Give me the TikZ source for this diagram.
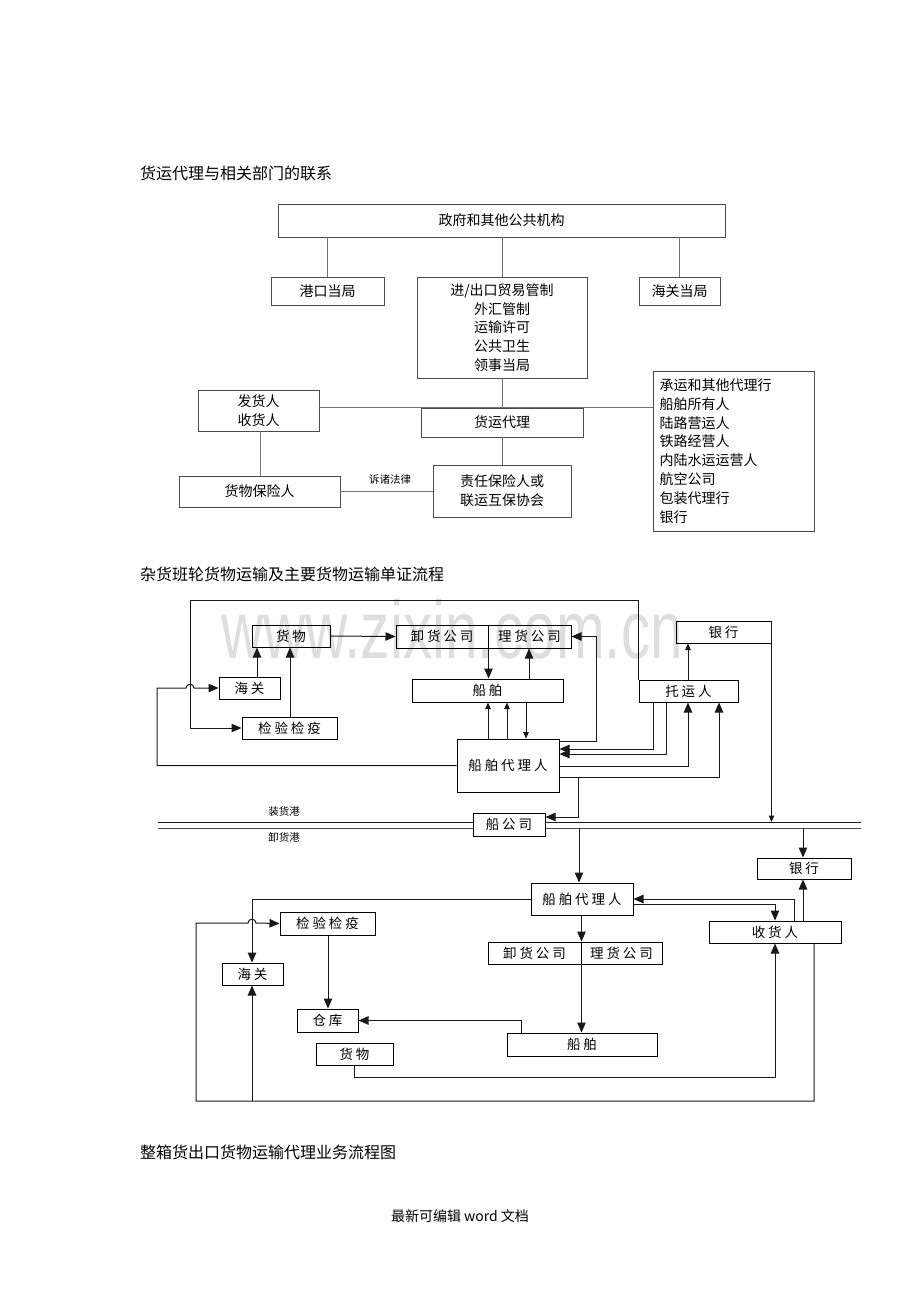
\documentclass[tikz,border=0pt]{standalone}
\usepackage{fontspec}
\newfontfamily\cjk{Noto Sans CJK SC}
\newfontfamily\cjksp{Noto Sans CJK SC}[LetterSpace=22]
\newfontfamily\wmfont{Liberation Sans}
\usetikzlibrary{arrows.meta,calc}
\newcommand\mkbox[7][]{%
  \pgfmathsetmacro\bxw{#5-#3}\pgfmathsetmacro\bxh{#6-#4}%
  \node[#1,minimum width=\bxw pt,minimum height=\bxh pt] (#2) at ({(#3+#5)/2},{(#4+#6)/2}) {#7};}
\tikzset{
  boxA/.style={draw=black!70, line width=0.8pt, inner sep=0pt, align=center,
    font=\cjk\fontsize{14}{18.8}\selectfont},
  boxB/.style={draw=black, line width=1pt, inner sep=0pt,
    font=\cjksp\fontsize{13.5}{16}\selectfont},
  linA/.style={draw=black!55, line width=0.8pt},
  linB/.style={draw=black!90, line width=1pt},
  arr/.style={linB, -{Triangle[length=10pt,width=8.5pt]}},
  arrs/.style={linB, -{Triangle[length=6.5pt,width=5.5pt]}},
  ttl/.style={anchor=west, inner sep=0pt, font=\cjk\fontsize{16}{16}\selectfont},
  smlab/.style={inner sep=0pt, font=\cjk\fontsize{10.5}{11}\selectfont}
}
\begin{document}
\begin{tikzpicture}[x=1pt,y=-1pt]
\fill[white] (0,0) rectangle (920,1302);
\path[use as bounding box] (0,0) rectangle (920,1302);

% watermark
\node[inner sep=0pt, anchor=base, text=black!13, xscale=0.714,
  font=\wmfont\fontsize{82}{82}\selectfont] (wm) at (452,658) {www.zixin.com.cn};

% ---------------- titles ----------------
\node[ttl] (t1) at (140,173) {货运代理与相关部门的联系};
\node[ttl] (t2) at (140,574) {杂货班轮货物运输及主要货物运输单证流程};
\node[ttl] (t3) at (140,1152) {整箱货出口货物运输代理业务流程图};
\node[inner sep=0pt, font=\cjk\fontsize{14}{14}\selectfont] (foot) at (460,1216) {最新可编辑 word 文档};

% ---------------- diagram 1 ----------------
\mkbox[boxA]{gov}{278}{204}{725}{237}{政府和其他公共机构}
\mkbox[boxA]{gangkou}{271}{277}{384}{305}{港口当局}
\mkbox[boxA]{jck}{417}{277}{587}{378}{进/出口贸易管制\\外汇管制\\运输许可\\公共卫生\\领事当局}
\mkbox[boxA]{hgdj}{639}{277}{720}{305}{海关当局}
\mkbox[boxA]{fahuo}{198}{390}{319}{431}{发货人\\收货人}
\mkbox[boxA]{hydl}{421}{408}{583}{437}{货运代理}
\mkbox[boxA,align=left,text width=148pt,inner xsep=6pt]{chengyun}{653}{371}{814}{531}{承运和其他代理行\\船舶所有人\\陆路营运人\\铁路经营人\\内陆水运运营人\\航空公司\\包装代理行\\银行}
\mkbox[boxA]{hwbx}{179}{476}{340}{507}{货物保险人}
\mkbox[boxA]{zeren}{433}{465}{571}{517}{责任保险人或\\联运互保协会}
\node[smlab] (susong) at (390,479) {诉诸法律};

\draw[linA] (gov.south -| gangkou.north) -- (gangkou.north);
\draw[linA] (gov.south -| jck.north) -- (jck.north);
\draw[linA] (gov.south -| hgdj.north) -- (hgdj.north);
\draw[linA] (jck.south) -- (hydl.north);
\draw[linA] (fahuo.east |- hydl.north) -- (chengyun.west |- hydl.north);
\draw[linA] (fahuo.south -| 260,0) -- (hwbx.north -| 260,0);
\draw[linA] (hydl.south) -- (zeren.north);
\draw[linA] (hwbx.east) -- (zeren.west |- hwbx.east);

% ---------------- diagram 2 : loading port ----------------
\draw[linB] (158,822) -- (861,822);
\draw[linB,draw=black!70] (158,828) -- (861,828);
\node[smlab] (zhg) at (284,811) {装货港};
\node[smlab] (xhg) at (284,837) {卸货港};

\mkbox[boxB]{huowu1}{252}{625}{330}{647}{货物}
\mkbox[boxB]{xiehuo1}{396}{625}{488}{648}{卸货公司}
\mkbox[boxB]{lihuo1}{488}{625}{571}{648}{理货公司}
\mkbox[boxB]{haiguan1}{219}{677}{280}{699}{海关}
\mkbox[boxB]{jianyan1}{242}{717}{337}{739}{检验检疫}
\mkbox[boxB]{chuanbo1}{412}{679}{563}{702}{船舶}
\mkbox[boxB]{daili1}{457}{739}{559}{792}{船舶代理人}
\mkbox[boxB]{tuoyun}{639}{680}{738}{702}{托运人}
\mkbox[boxB]{yinhang1}{676}{621}{771}{643}{银行}
\mkbox[boxB,fill=white]{cgs}{473}{813}{545}{836}{船公司}

\coordinate (o1) at (190,600);
\draw[arr] (huowu1.east) -- (xiehuo1.west);
\draw[arr] (haiguan1.north -| 257,0) -- (huowu1.south -| 257,0);
\draw[arr] (jianyan1.north -| 290,0) -- (huowu1.south -| 290,0);
\draw[arr] (tuoyun.north west) -- (tuoyun.north west |- o1) -- (o1) |- (jianyan1.west);
\draw[arr] (daili1.west) -| (157,688) -- (186,688) .. controls (186,683) and (194,683) .. (194,688) -- (haiguan1.west);
\draw[arr] (xiehuo1.south east) -- (chuanbo1.north -| xiehuo1.south east);
\draw[arr] (chuanbo1.north -| 529,0) -- (lihuo1.south -| 529,0);
\draw[arr] (daili1.east |- 0,741) -- (596,741) |- (lihuo1.east);
\draw[arrs] (daili1.north -| 488,0) -- (chuanbo1.south -| 488,0);
\draw[arrs] (daili1.north -| 507,0) -- (chuanbo1.south -| 507,0);
\draw[arrs] (chuanbo1.south -| 526,0) -- (daili1.north -| 526,0);
\draw[arr] (tuoyun.south -| 653,0) |- (daili1.east |- 0,749);
\draw[arr] (tuoyun.south -| 666,0) |- (daili1.east |- 0,754);
\draw[arr] (daili1.east |- 0,766) -| (tuoyun.south -| 688,0);
\draw[arr] (daili1.east |- 0,777) -| (tuoyun.south -| 719,0);
\draw[arr] (daili1.east |- 0,777) -- (578,777) |- (cgs.east |- 0,817);
\draw[arrs] (tuoyun.north -| 688,0) -- (yinhang1.south -| 688,0);
\draw[arrs] (yinhang1.north east) -- (yinhang1.north east |- 0,822);

% ---------------- diagram 2 : discharging port ----------------
\mkbox[boxB]{daili2}{531}{883}{633}{915}{船舶代理人}
\mkbox[boxB]{jianyan2}{280}{912}{375}{935}{检验检疫}
\mkbox[boxB]{haiguan2}{222}{963}{283}{985}{海关}
\mkbox[boxB]{xiehuo2}{488}{942}{581}{964}{卸货公司}
\mkbox[boxB]{lihuo2}{581}{942}{662}{964}{理货公司}
\mkbox[boxB]{cangku}{297}{1009}{358}{1032}{仓库}
\mkbox[boxB]{huowu2}{316}{1043}{393}{1065}{货物}
\mkbox[boxB]{chuanbo2}{507}{1033}{657}{1056}{船舶}
\mkbox[boxB]{shouhuo}{709}{921}{841}{943}{收货人}
\mkbox[boxB]{yinhang2}{757}{858}{851}{879}{银行}

\coordinate (p1) at (579,828);
\coordinate (p2) at (803,828);
\coordinate (p3) at (252,1101);
\draw[arr] (p1) -- (daili2.north -| p1);
\draw[arr] (p2) -- (yinhang2.north -| p2);
\draw[arr] (daili2.west) -| (haiguan2.north -| 252,0);
\draw[arr] (shouhuo.south -| 814,0) -- (814,1101) -- (196,1101) -- (196,923) -- (248,923) .. controls (248,918) and (256,918) .. (256,923) -- (jianyan2.west);
\draw[arr] (p3) -- (haiguan2.south -| p3);
\draw[arr] (jianyan2.south -| 328,0) -- (cangku.north -| 328,0);
\draw[arr] (chuanbo2.north -| 521,0) |- (cangku.east);
\draw[arr] (huowu2.south -| 354,0) -- (354,1077) -| (shouhuo.south -| 775,0);
\draw[arr] (daili2.south -| xiehuo2.north east) -- (xiehuo2.north east);
\draw[arr] (xiehuo2.south east) -- (chuanbo2.north -| xiehuo2.south east);
\draw[arr] (shouhuo.north -| 794,0) |- (daili2.east |- 0,899);
\draw[arr] (daili2.east |- 0,904) -| (shouhuo.north -| 775,0);
\draw[arr] (shouhuo.north -| 803,0) -- (yinhang2.south -| 803,0);
\end{tikzpicture}
\end{document}
